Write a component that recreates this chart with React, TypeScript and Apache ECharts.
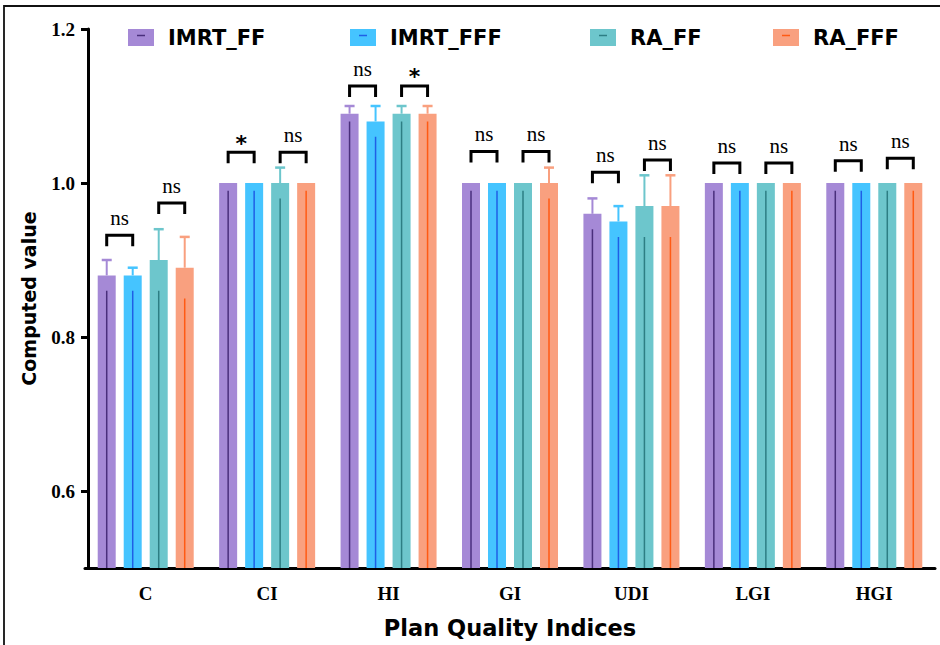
import React, { useEffect, useRef } from "react";
import * as echarts from "echarts";

const categories = ["C", "CI", "HI", "GI", "UDI", "LGI", "HGI"];
const seriesNames = ["IMRT_FF", "IMRT_FFF", "RA_FF", "RA_FFF"];

const imrtFF = [0.88, 1.0, 1.09, 1.0, 0.96, 1.0, 1.0];
const imrtFFF = [0.88, 1.0, 1.08, 1.0, 0.95, 1.0, 1.0];
const raFF = [0.9, 1.0, 1.09, 1.0, 0.97, 1.0, 1.0];
const raFFF = [0.89, 1.0, 1.09, 1.0, 0.97, 1.0, 1.0];

const imrtFFUpper = [0.9, 1.0, 1.1, 1.0, 0.98, 1.0, 1.0];
const imrtFFFUpper = [0.89, 1.0, 1.1, 1.0, 0.97, 1.0, 1.0];
const raFFUpper = [0.94, 1.02, 1.1, 1.0, 1.01, 1.0, 1.0];
const raFFFUpper = [0.93, 1.0, 1.1, 1.02, 1.01, 1.0, 1.0];

const imrtFFLower = [0.86, 0.99, 1.08, 0.99, 0.94, 0.99, 0.99];
const imrtFFFLower = [0.86, 0.99, 1.06, 0.99, 0.93, 0.99, 0.99];
const raFFLower = [0.86, 0.98, 1.08, 0.99, 0.93, 0.99, 0.99];
const raFFFLower = [0.85, 0.99, 1.08, 0.98, 0.93, 0.99, 0.99];

const bracket1Top = [0.932, 1.04, 1.126, 1.041, 1.014, 1.026, 1.029];
const bracket2Top = [0.974, 1.04, 1.126, 1.041, 1.03, 1.026, 1.032];
const bracket1Label = ["ns", "*", "ns", "ns", "ns", "ns", "ns"];
const bracket2Label = ["ns", "ns", "*", "ns", "ns", "ns", "ns"];

const yTickValues = [0.6, 0.8, 1.0, 1.2];
const Y_MIN = 0.5;
const Y_MAX = 1.2;

const values = [imrtFF, imrtFFF, raFF, raFFF];
const uppers = [imrtFFUpper, imrtFFFUpper, raFFUpper, raFFFUpper];
const lowers = [imrtFFLower, imrtFFFLower, raFFLower, raFFFLower];

const barColors = ["#A589D6", "#45C4FF", "#6DC6CC", "#F9A07F"];
const innerColors = ["#4A2F7C", "#1F5FE6", "#2D7E84", "#FF5A14"];

const BAR_W = 18;
const BAR_GAP = 8;
const offsetOf = (s: number) => (s - 1.5) * (BAR_W + BAR_GAP);

const legendLefts = [128, 350, 590, 773];

export default function App() {
  const ref = useRef<HTMLDivElement>(null);

  useEffect(() => {
    document.body.style.margin = "0";
    if (!ref.current) return;
    const chart = echarts.init(ref.current, null, { renderer: "svg" });

    const barSeries = seriesNames.map((name, s) => ({
      name,
      type: "bar",
      data: values[s],
      barWidth: BAR_W,
      barGap: `${(BAR_GAP / BAR_W) * 100}%`,
      itemStyle: { color: barColors[s] },
      z: 2,
      silent: true,
    }));

    const errSeries = seriesNames.map((name, s) => ({
      name,
      type: "custom",
      z: 3,
      silent: true,
      encode: { x: 0, y: 1 },
      data: categories.map((c, i) => [i, values[s][i], uppers[s][i], lowers[s][i]]),
      renderItem: (params: any, api: any) => {
        const ci = api.value(0);
        const v = api.value(1);
        const up = api.value(2);
        const lo = api.value(3);
        const base = api.coord([ci, v]);
        const cx = base[0] + offsetOf(s);
        const yV = base[1];
        const yTop = api.coord([ci, up])[1];
        const yLo = api.coord([ci, lo])[1];
        const yBottom = api.coord([ci, Y_MIN])[1];
        const children: any[] = [];
        if (up > v) {
          children.push({
            type: "line",
            shape: { x1: cx, y1: yV, x2: cx, y2: yTop },
            style: { stroke: barColors[s], lineWidth: 2 },
          });
          children.push({
            type: "line",
            shape: { x1: cx - 5, y1: yTop, x2: cx + 5, y2: yTop },
            style: { stroke: barColors[s], lineWidth: 2.5 },
          });
        }
        children.push({
          type: "line",
          shape: { x1: cx, y1: yLo, x2: cx, y2: yBottom },
          style: { stroke: innerColors[s], lineWidth: 1.5 },
        });
        return { type: "group", children };
      },
    }));

    const bracketData: any[] = [];
    const bracketLabels: string[] = [];
    categories.forEach((c, i) => {
      bracketData.push([i, 0, bracket1Top[i]]);
      bracketLabels.push(bracket1Label[i]);
      bracketData.push([i, 1, bracket2Top[i]]);
      bracketLabels.push(bracket2Label[i]);
    });

    const bracketSeries = {
      type: "custom",
      z: 4,
      silent: true,
      encode: { x: 0, y: 2 },
      data: bracketData,
      renderItem: (params: any, api: any) => {
        const ci = api.value(0);
        const pair = api.value(1);
        const top = api.value(2);
        const p = api.coord([ci, top]);
        const x1 = p[0] + offsetOf(pair * 2);
        const x2 = p[0] + offsetOf(pair * 2 + 1);
        const y = p[1];
        const label = bracketLabels[params.dataIndex];
        const star = label === "*";
        return {
          type: "group",
          children: [
            {
              type: "polyline",
              shape: { points: [[x1, y + 11], [x1, y], [x2, y], [x2, y + 11]] },
              style: { stroke: "#000", lineWidth: 3, fill: "none", lineJoin: "miter" },
            },
            {
              type: "text",
              x: (x1 + x2) / 2,
              y: star ? y - 9 : y - 17,
              style: {
                text: label,
                fill: "#000",
                align: "center",
                verticalAlign: "middle",
                fontFamily: star ? "DejaVu Sans" : "Liberation Serif",
                fontWeight: star ? "bold" : "normal",
                fontSize: star ? 22 : 21,
              },
            },
          ],
        };
      },
    };

    const legends = seriesNames.map((name, s) => ({
      data: [{ name, icon: "rect" }],
      left: legendLefts[s],
      top: 27,
      padding: 0,
      itemWidth: 26,
      itemHeight: 17,
      selectedMode: false,
      textStyle: {
        fontFamily: "DejaVu Sans",
        fontWeight: "bold",
        fontSize: 21,
        color: "#000",
        lineHeight: 17,
        padding: [0, 0, 0, 9],
      },
    }));

    const legendDashes = legendLefts.map((lx, s) => ({
      type: "line",
      z: 100,
      shape: { x1: lx + 9, y1: 35.5, x2: lx + 17, y2: 35.5 },
      style: { stroke: innerColors[s], lineWidth: 1.5 },
    }));

    const option: any = {
      animation: false,
      backgroundColor: "#fff",
      legend: legends,
      grid: { left: 85, right: 5, top: 29, bottom: 77, containLabel: false },
      xAxis: {
        type: "category",
        data: categories,
        name: "Plan Quality Indices",
        nameLocation: "middle",
        nameGap: 48,
        nameTextStyle: {
          fontFamily: "DejaVu Sans",
          fontWeight: "bold",
          fontSize: 22.5,
          color: "#000",
        },
        axisLine: { lineStyle: { color: "#000", width: 3 } },
        axisTick: { alignWithLabel: true, length: 7, lineStyle: { color: "#000", width: 3 } },
        axisLabel: {
          margin: 16,
          fontFamily: "Liberation Serif",
          fontWeight: "bold",
          fontSize: 19,
          color: "#000",
        },
      },
      yAxis: {
        type: "value",
        min: Y_MIN,
        max: Y_MAX,
        interval: 0.1,
        offset: -3,
        name: "Computed value",
        nameLocation: "middle",
        nameGap: 50,
        nameTextStyle: {
          fontFamily: "DejaVu Sans",
          fontWeight: "bold",
          fontSize: 19,
          color: "#000",
        },
        splitLine: { show: false },
        axisLine: { show: true, lineStyle: { color: "#000", width: 3 } },
        axisTick: {
          show: true,
          length: 7,
          customValues: yTickValues,
          lineStyle: { color: "#000", width: 3 },
        },
        axisLabel: {
          margin: 13,
          customValues: yTickValues,
          formatter: (v: number) => v.toFixed(1),
          fontFamily: "Liberation Serif",
          fontWeight: "bold",
          fontSize: 19,
          color: "#000",
        },
      },
      graphic: [
        {
          type: "rect",
          shape: { x: 4, y: 6, width: 1000, height: 1000 },
          style: { fill: "none", stroke: "#111", lineWidth: 1.8 },
          silent: true,
        },
        ...legendDashes,
      ],
      series: [...barSeries, ...errSeries, bracketSeries],
    };

    chart.setOption(option);
    return () => chart.dispose();
  }, []);

  return <div ref={ref} style={{ width: 940, height: 645 }} />;
}
